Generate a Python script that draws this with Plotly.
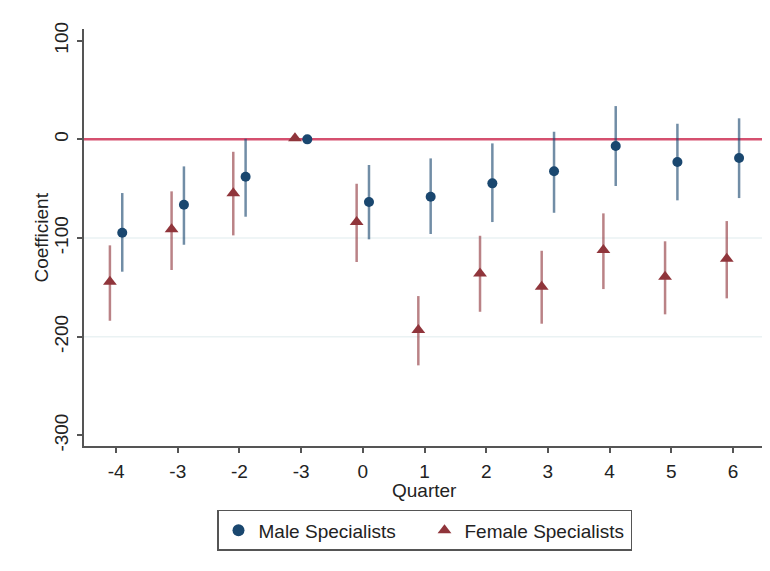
import plotly.graph_objects as go

quarters = [-4, -3, -2, -1, 0, 1, 2, 3, 4, 5, 6]
tick_labels = ["-4", "-3", "-2", "-3", "0", "1", "2", "3", "4", "5", "6"]

male_coef = [-94.6, -66.2, -37.9, 0.0, -63.5, -58.2, -44.6, -32.4, -6.8, -23.0, -18.9]
male_lo = [-134.1, -106.8, -78.4, 0.0, -101.3, -95.9, -83.8, -74.4, -47.3, -61.8, -59.5]
male_hi = [-54.4, -27.4, 0.6, 0.0, -26.0, -19.3, -4.1, 7.7, 33.7, 15.8, 21.3]

female_coef = [-144.3, -91.2, -54.7, 1.0, -83.8, -193.2, -135.8, -149.3, -112.2, -139.2, -121.0]
female_lo = [-183.8, -132.4, -97.3, 1.0, -124.3, -229.0, -174.7, -186.8, -151.7, -177.3, -161.1]
female_hi = [-107.4, -52.7, -12.6, 1.0, -45.0, -158.8, -97.7, -112.9, -75.0, -103.3, -82.8]

OFF = 0.1
FONT = "Liberation Sans, Arial, sans-serif"
NAVY = "#1a476f"
NAVY_CI = "rgba(26,71,111,0.62)"
MAROON = "#90353b"
MAROON_CI = "rgba(144,53,59,0.62)"

fig = go.Figure()

fig.add_trace(go.Scatter(
    x=[q + OFF for q in quarters], y=male_coef, mode="markers",
    name="Male Specialists",
    marker=dict(symbol="circle", size=10, color=NAVY),
    error_y=dict(type="data", symmetric=False,
                 array=[h - c for h, c in zip(male_hi, male_coef)],
                 arrayminus=[c - l for c, l in zip(male_coef, male_lo)],
                 color=NAVY_CI, thickness=2.5, width=0),
))
fig.add_trace(go.Scatter(
    x=[q - OFF for q in quarters], y=female_coef, mode="markers",
    name="Female Specialists",
    marker=dict(symbol="triangle-up", size=12, color=MAROON),
    error_y=dict(type="data", symmetric=False,
                 array=[h - c for h, c in zip(female_hi, female_coef)],
                 arrayminus=[c - l for c, l in zip(female_coef, female_lo)],
                 color=MAROON_CI, thickness=2.5, width=0),
))

shapes = []
for g in [-100, -200]:
    shapes.append(dict(type="line", xref="paper", x0=0, x1=1, yref="y", y0=g, y1=g,
                       line=dict(color="#eaf2f3", width=1.5), layer="below"))
shapes.append(dict(type="line", xref="paper", x0=0, x1=1, yref="y", y0=0, y1=0,
                   line=dict(color="#d5506f", width=2.5), layer="below"))
shapes.append(dict(type="line", xref="paper", x0=-0.105, x1=1.01, yref="paper", y0=1.053, y1=1.053,
                   line=dict(color="#efefef", width=1)))

annotations = [
    dict(text="Quarter", xref="paper", yref="paper", x=0.5, y=0, xanchor="center",
         yanchor="middle", yshift=-44, showarrow=False, font=dict(size=19, color="#222")),
    dict(text="Coefficient", xref="paper", yref="paper", x=0, y=0.5, xanchor="center",
         yanchor="middle", xshift=-43, textangle=-90, showarrow=False,
         font=dict(size=19, color="#222")),
]

fig.update_layout(
    width=762, height=563,
    margin=dict(l=76, r=5, t=21, b=125),
    paper_bgcolor="white", plot_bgcolor="white",
    font=dict(family=FONT, size=19, color="#222"),
    shapes=shapes,
    annotations=annotations,
    showlegend=True,
    legend=dict(orientation="h", x=0.5, xanchor="center", y=-0.153, yanchor="top",
                bordercolor="#555", borderwidth=1.5, font=dict(size=19),
                itemsizing="constant", entrywidth=161, entrywidthmode="pixels"),
    xaxis=dict(range=[-4.52, 6.52], tickvals=quarters, ticktext=tick_labels,
               showgrid=False, zeroline=False, showline=True, linecolor="#555", linewidth=1.5,
               ticks="outside", ticklen=5, tickcolor="#555", tickwidth=1.5,
               automargin=False, ticklabelstandoff=2),
    yaxis=dict(range=[-310.7, 111.8], tickvals=[100, 0, -100, -200, -300],
               ticktext=["100", "0", "-100", "-200", "-300"], tickangle=-90,
               showgrid=False, zeroline=False, showline=True, linecolor="#555", linewidth=1.5,
               ticks="outside", ticklen=5, tickcolor="#555", tickwidth=1.5,
               automargin=False, ticklabelstandoff=2),
)

fig.write_html("out.html")
